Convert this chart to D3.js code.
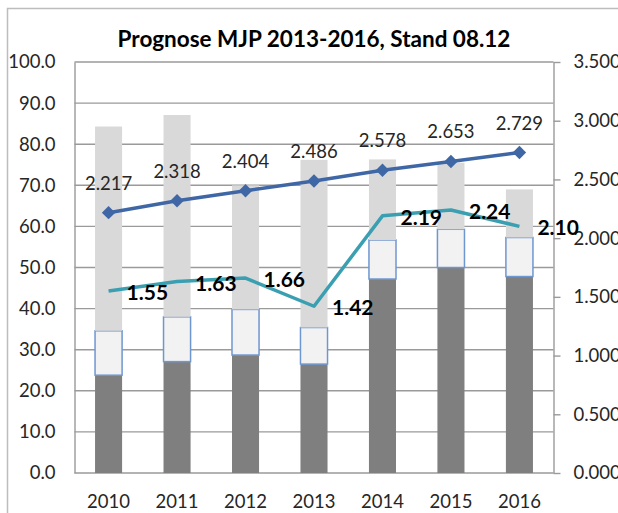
<!DOCTYPE html>
<html>
<head>
<meta charset="utf-8">
<script src="https://cdn.jsdelivr.net/npm/d3@7"></script>
<style>
  body { margin: 0; background: #fff; }
  svg { display: block; font-family: Lato, "Liberation Sans", sans-serif; }
</style>
</head>
<body>
<svg class="chart" width="618" height="513"></svg>
<script>
// chart data
var categories = ['2010', '2011', '2012', '2013', '2014', '2015', '2016'];
// stacked columns (left axis): dark base, framed middle part, light grey top part
var baseValues = [23.8, 27.1, 28.7, 26.5, 47.2, 50.0, 47.8];
var middleValues = [10.8, 10.9, 11.1, 8.9, 9.5, 9.3, 9.5];
var topValues = [49.7, 49.1, 30.2, 40.8, 19.6, 16.2, 11.7];
// lines (right axis)
var upperLine = [2.217, 2.318, 2.404, 2.486, 2.578, 2.653, 2.729];
var lowerLine = [1.55, 1.63, 1.66, 1.42, 2.19, 2.24, 2.10];
var leftTicks = [0, 10, 20, 30, 40, 50, 60, 70, 80, 90, 100];
var rightTicks = [0, 0.5, 1, 1.5, 2, 2.5, 3, 3.5];
var title = 'Prognose MJP 2013-2016, Stand 08.12';

(function () {
    var left = 74.5, right = 553.5, top = 62, bottom = 473;
    var svg = d3.select('.chart');

    // outer chart frame
    svg.append('rect')
        .attr('x', 7.5).attr('y', 8.5)
        .attr('width', 640).attr('height', 540)
        .attr('fill', 'none').attr('stroke', '#bdbdbd').attr('stroke-width', 1.5);

    var x = d3.scaleBand().domain(categories).range([left, right]).paddingInner(0.605).paddingOuter(0.3);
    var yL = d3.scaleLinear().domain([0, 100]).range([bottom, top]);
    var yR = d3.scaleLinear().domain([0, 3.5]).range([bottom, top]);

    // gridlines
    svg.append('g')
        .selectAll('line')
        .data(leftTicks)
        .enter().append('line')
            .attr('x1', left).attr('x2', right)
            .attr('y1', function (d) { return yL(d); })
            .attr('y2', function (d) { return yL(d); })
            .attr('stroke', '#9a9a9a').attr('stroke-width', 1.4);

    // stacked columns
    var table = categories.map(function (c, i) {
        return { cat: c, base: baseValues[i], middle: middleValues[i], top: topValues[i] };
    });
    var series = d3.stack().keys(['base', 'middle', 'top'])(table);
    var fills = { base: '#7f7f7f', middle: '#f2f2f2', top: '#d9d9d9' };

    series.forEach(function (s) {
        svg.append('g')
            .selectAll('rect')
            .data(s)
            .enter().append('rect')
                .attr('x', function (d) { return x(d.data.cat); })
                .attr('width', x.bandwidth())
                .attr('y', function (d) { return yL(d[1]); })
                .attr('height', function (d) { return yL(d[0]) - yL(d[1]); })
                .attr('fill', fills[s.key])
                .attr('stroke', s.key === 'middle' ? '#6f97cf' : 'none')
                .attr('stroke-width', 1.5);
    });

    // axes
    svg.append('g')
        .attr('transform', 'translate(' + left + ',0)')
        .call(d3.axisLeft(yL).tickValues(leftTicks).tickFormat(d3.format('.1f')).tickSize(0).tickPadding(19))
        .call(function (g) { g.select('.domain').attr('stroke', '#9a9a9a').attr('stroke-width', 1.4); });

    svg.append('g')
        .attr('transform', 'translate(' + right + ',0)')
        .call(d3.axisRight(yR).tickValues(rightTicks).tickFormat(d3.format('.3f')).tickSizeInner(7).tickSizeOuter(0).tickPadding(13))
        .call(function (g) {
            g.select('.domain').attr('stroke', '#9a9a9a').attr('stroke-width', 1.4);
            g.selectAll('.tick line').attr('stroke', '#9a9a9a').attr('stroke-width', 1.4);
        });

    svg.append('g')
        .attr('transform', 'translate(0,' + bottom + ')')
        .call(d3.axisBottom(x).tickSize(0).tickPadding(22))
        .call(function (g) { g.select('.domain').remove(); });

    svg.selectAll('.tick text')
        .attr('font-family', 'Lato, "Liberation Sans", sans-serif')
        .attr('font-size', 18.5)
        .attr('fill', '#262626');

    var cx = function (d, i) { return x(categories[i]) + x.bandwidth() / 2; };

    // lower line with bold labels
    svg.append('path')
        .datum(lowerLine)
        .attr('fill', 'none').attr('stroke', '#3b9fb2').attr('stroke-width', 3.5)
        .attr('stroke-linejoin', 'round')
        .attr('d', d3.line().x(cx).y(function (d) { return yR(d); }));

    svg.append('g')
        .selectAll('text')
        .data(lowerLine)
        .enter().append('text')
            .attr('x', function (d, i) { return cx(d, i) + 18; })
            .attr('y', function (d) { return yR(d) + 9; })
            .attr('font-size', 21).attr('font-weight', 'bold').attr('fill', '#000')
            .text(function (d) { return d3.format('.2f')(d); });

    // upper line with diamonds
    svg.append('path')
        .datum(upperLine)
        .attr('fill', 'none').attr('stroke', '#3f67a6').attr('stroke-width', 3.5)
        .attr('d', d3.line().x(cx).y(function (d) { return yR(d); }));

    svg.append('g')
        .selectAll('path')
        .data(upperLine)
        .enter().append('path')
            .attr('d', d3.symbol().type(d3.symbolSquare).size(90))
            .attr('transform', function (d, i) { return 'translate(' + cx(d, i) + ',' + yR(d) + ') rotate(45)'; })
            .attr('fill', '#3f67a6');

    svg.append('g')
        .selectAll('text')
        .data(upperLine)
        .enter().append('text')
            .attr('x', cx)
            .attr('y', function (d) { return yR(d) - 23; })
            .attr('text-anchor', 'middle')
            .attr('font-size', 18.5).attr('fill', '#262626')
            .text(function (d) { return d3.format('.3f')(d); });

    // title
    svg.append('text')
        .attr('x', 314).attr('y', 47)
        .attr('text-anchor', 'middle')
        .attr('font-size', 22.5).attr('font-weight', 'bold').attr('fill', '#000')
        .text(title);
}());
</script>
</body>
</html>
